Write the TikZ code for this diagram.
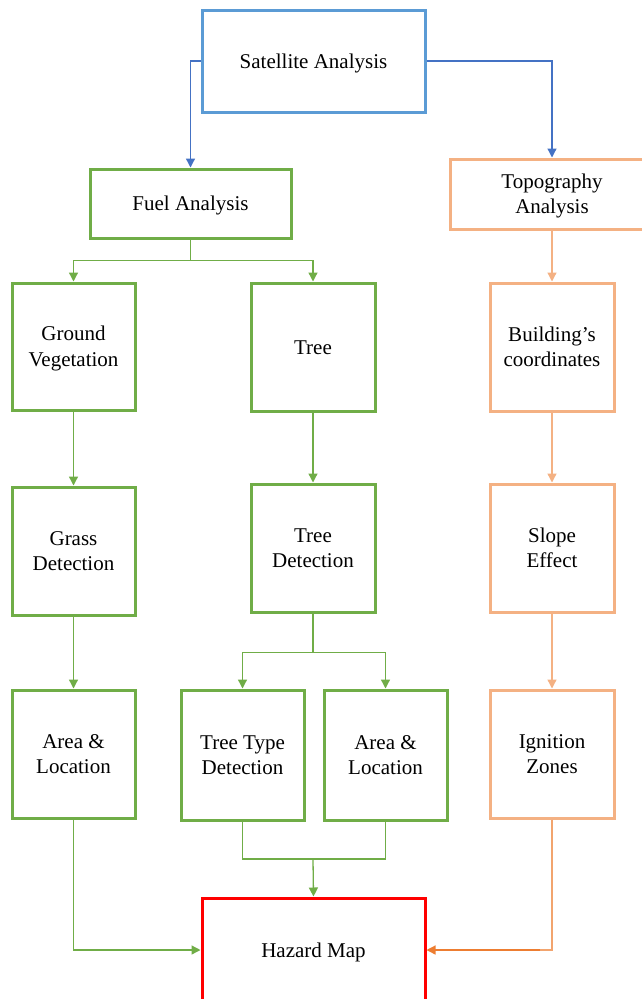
\documentclass[tikz,border=0pt]{standalone}
\usepackage{fontspec}
\setmainfont{Liberation Serif}
\usetikzlibrary{arrows.meta}
\definecolor{sblue}{HTML}{5B9BD5}
\definecolor{cblue}{HTML}{4472C4}
\definecolor{sgreen}{HTML}{70AD47}
\definecolor{sorange}{HTML}{F4B183}
\definecolor{corange}{HTML}{F2A46E}
\definecolor{dorange}{HTML}{ED7D31}
\definecolor{sred}{HTML}{FF0000}
\newcommand\boxtext[1]{\begin{tabular}{@{}c@{}}\rule{0pt}{22pt}#1\end{tabular}}
\tikzset{
  box/.style={draw, line width=3pt, inner sep=0pt, fill=white,
    font=\fontsize{21}{25.5}\selectfont, text=black},
  conn/.style={line width=1.3pt},
  tip/.style={-{Triangle[length=9pt,width=9pt]}},
}
\begin{document}
\begin{tikzpicture}[x=1pt,y=-1pt]
\useasboundingbox (0,0) rectangle (642,999);
\clip (0,0) rectangle (642,999);
% nodes
\node[box, draw=sblue, minimum width=223pt, minimum height=102pt] (sat) at (313.5,61) {\boxtext{Satellite Analysis}};
\node[box, draw=sgreen, minimum width=201pt, minimum height=69pt] (fuel) at (190.5,203.5) {\boxtext{Fuel Analysis}};
\node[box, draw=sorange, minimum width=204pt, minimum height=70pt] (topo) at (552,194) {\boxtext{Topography\\Analysis}};
\node[box, draw=sgreen, minimum width=123pt, minimum height=127pt] (gv) at (73.5,346.5) {\boxtext{Ground\\Vegetation}};
\node[box, draw=sgreen, minimum width=124pt, minimum height=128pt] (tree) at (313,347) {\boxtext{Tree}};
\node[box, draw=sorange, minimum width=124pt, minimum height=128pt] (bld) at (552,347) {\boxtext{Building’s\\coordinates}};
\node[box, draw=sgreen, minimum width=123pt, minimum height=128pt] (grass) at (73.5,551) {\boxtext{Grass\\Detection}};
\node[box, draw=sgreen, minimum width=124pt, minimum height=128pt] (tdet) at (313,548) {\boxtext{Tree\\Detection}};
\node[box, draw=sorange, minimum width=124pt, minimum height=128pt] (slope) at (552,548) {\boxtext{Slope\\Effect}};
\node[box, draw=sgreen, minimum width=123pt, minimum height=128pt] (al1) at (73.5,754) {\boxtext{Area \&\\Location}};
\node[box, draw=sgreen, minimum width=123pt, minimum height=130pt] (ttype) at (242.5,755) {\boxtext{Tree Type\\Detection}};
\node[box, draw=sgreen, minimum width=123pt, minimum height=130pt] (al2) at (385.5,755) {\boxtext{Area \&\\Location}};
\node[box, draw=sorange, minimum width=124pt, minimum height=128pt] (ign) at (552,754) {\boxtext{Ignition\\Zones}};
\node[box, draw=sred, minimum width=223pt, minimum height=104pt] (haz) at (313.5,950) {\boxtext{Hazard Map}};
% blue connectors
\draw[conn, cblue, tip] (sat.west) -| (fuel.north);
\draw[conn, cblue, tip] (sat.east) -| (topo.north);
% fuel split
\draw[conn, sgreen] (fuel.south) -- ++(0,21) coordinate (fj);
\draw[conn, sgreen, tip] (fj) -| (gv.north);
\draw[conn, sgreen, tip] (fj) -| (tree.north);
% green verticals
\draw[conn, sgreen, tip] (gv.south) -- (grass.north);
\draw[conn, sgreen, tip] (grass.south) -- (al1.north);
\draw[conn, sgreen, tip] (tree.south) -- (tdet.north);
% tree detection split
\draw[conn, sgreen] (tdet.south) -- ++(0,39) coordinate (tj);
\draw[conn, sgreen, tip] (tj) -| (ttype.north);
\draw[conn, sgreen, tip] (tj) -| (al2.north);
% merge to hazard
\draw[conn, sgreen] (ttype.south) |- (313,859) coordinate (mj);
\draw[conn, sgreen] (al2.south) |- (mj);
\draw[conn, sgreen, tip] (mj) -- (haz.north);
\draw[conn, sgreen, tip] (al1.south) |- (haz.west);
% orange
\draw[conn, sorange, tip] (topo.south) -- (bld.north);
\draw[conn, sorange, tip] (bld.south) -- (slope.north);
\draw[conn, sorange, tip] (slope.south) -- (ign.north);
\draw[conn, corange] (ign.south) |- (540,950) coordinate (oj);
\draw[conn, dorange, tip] (oj) -- (haz.east);
\end{tikzpicture}
\end{document}
